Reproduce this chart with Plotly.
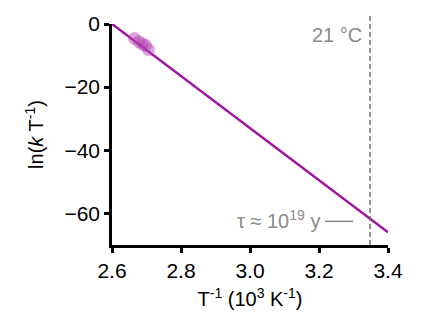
import plotly.graph_objects as go

# Data
fit_x = [2.6, 3.4]
fit_y = [0.0, -66.0]
pts_x = [2.665, 2.678, 2.688, 2.697, 2.706]
pts_y = [-4.6, -5.6, -6.3, -6.8, -8.1]
room_temp_x = 3.348
tau_y = -62.5
x_ticks = [2.6, 2.8, 3.0, 3.2, 3.4]
y_ticks = [0, -20, -40, -60]

purple = "#A0159F"
gray = "#8a8a8a"

fig = go.Figure()
fig.add_trace(go.Scatter(x=fit_x, y=fit_y, mode="lines",
                         line=dict(color=purple, width=2.5), showlegend=False))
fig.add_trace(go.Scatter(x=pts_x, y=pts_y, mode="markers",
                         marker=dict(color="rgba(175,60,175,0.45)", size=13, line=dict(width=0)),
                         showlegend=False, cliponaxis=False))

fig.add_shape(type="line", xref="x", yref="paper", x0=room_temp_x, x1=room_temp_x,
              y0=0, y1=1.05, line=dict(color="#707070", width=1.5, dash="5px,3px"))
fig.add_shape(type="line", xref="x", yref="y", xsizemode="pixel", xanchor=room_temp_x,
              x0=-45, x1=-17, y0=tau_y, y1=tau_y, line=dict(color=gray, width=1.5))
fig.add_annotation(x=room_temp_x, y=1.0, xref="x", yref="paper", text="21 °C",
                   showarrow=False, xanchor="right", yanchor="top", xshift=-6, yshift=2,
                   font=dict(family="Arial, Liberation Sans", size=20, color=gray))
fig.add_annotation(x=room_temp_x, y=tau_y, xref="x", yref="y",
                   text="τ ≈ 10<sup>19</sup> y",
                   showarrow=False, xanchor="right", yanchor="middle", xshift=-48, yshift=2,
                   font=dict(family="Arial, Liberation Sans", size=20, color=gray))

axis_font = dict(family="Arial, Liberation Sans", size=20, color="black")
tick_font = dict(family="Arial, Liberation Sans", size=21, color="black")
fig.update_xaxes(range=[2.6, 3.4], tickvals=x_ticks, ticktext=[f"{v:.1f}" for v in x_ticks],
                 showline=True, linecolor="black", linewidth=2.5, ticks="outside",
                 ticklen=5, tickwidth=2.5, tickcolor="black", showgrid=False, zeroline=False,
                 tickfont=tick_font,
                 title=dict(text="T<sup>-1</sup> (10<sup>3</sup> K<sup>-1</sup>)", font=axis_font, standoff=12))
fig.update_yaxes(range=[-70, 0], tickvals=y_ticks, ticktext=["−0".replace("−", ""), "−20", "−40", "−60"],
                 showline=True, linecolor="black", linewidth=2.5, ticks="outside",
                 ticklen=5, tickwidth=2.5, tickcolor="black", showgrid=False, zeroline=False,
                 tickfont=tick_font,
                 title=dict(text="ln(<i>k</i> T<sup>-1</sup>)", font=axis_font, standoff=16))
fig.update_layout(width=430, height=329, margin=dict(l=112, r=42, t=24, b=84),
                  plot_bgcolor="white", paper_bgcolor="white")
fig.write_html("out.html")
